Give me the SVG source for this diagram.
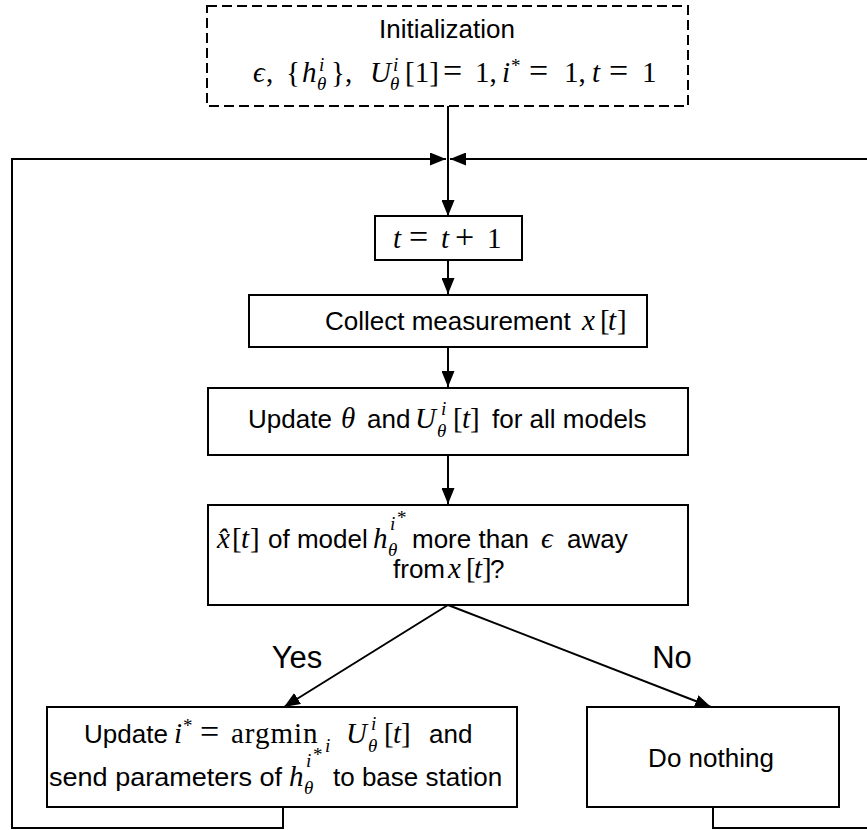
<svg xmlns="http://www.w3.org/2000/svg" width="867" height="830" viewBox="0 0 867 830">
<defs>
<style>
.box{fill:#fff;stroke:#000;stroke-width:2}
.dash{stroke-dasharray:10 5}
.c{fill:none;stroke:#000;stroke-width:2}
.t{font-family:"Liberation Sans",Arial,sans-serif;font-size:26px;fill:#000}
.m{font-family:"Liberation Serif","DejaVu Serif",serif;font-style:italic;font-size:29px;fill:#000}
.r{font-style:normal}
.s{font-size:19px}
.eq{font-size:34px;font-style:normal}
.lbl{font-family:"Liberation Sans",Arial,sans-serif;font-size:31px;fill:#000}
</style>
<marker id="ah" markerUnits="userSpaceOnUse" markerWidth="16" markerHeight="13" refX="16" refY="6.5" orient="auto">
<path d="M0,0 L16,6.5 L0,13 z" fill="#000"/>
</marker>
</defs>
<rect width="867" height="830" fill="#fff"/>

<g id="connectors">
<path class="c" d="M448,106 V216" marker-end="url(#ah)"/>
<path class="c" d="M448,260 V294" marker-end="url(#ah)"/>
<path class="c" d="M448,347 V387" marker-end="url(#ah)"/>
<path class="c" d="M448,455 V504" marker-end="url(#ah)"/>
<path class="c" d="M448,605 L284,707" marker-end="url(#ah)"/>
<path class="c" d="M448,605 L711,707" marker-end="url(#ah)"/>
<path class="c" d="M283,807 V828 H12 V159 H446" marker-end="url(#ah)"/>
<path class="c" d="M713,807 V828 H880 V159 H450" marker-end="url(#ah)"/>
</g>

<g id="init">
<rect class="box dash" x="207" y="6" width="481" height="100"/>
<text class="t" x="447" y="38" text-anchor="middle">Initialization</text>
<text class="m" y="82"><tspan x="253">ϵ</tspan><tspan class="r" x="266">,</tspan><tspan class="r" x="286">{</tspan><tspan x="302">h</tspan><tspan class="s" x="319" y="71">i</tspan><tspan class="s" x="317" y="90">θ</tspan><tspan class="r" x="331" y="82">}</tspan><tspan class="r" x="345">,</tspan><tspan x="370">U</tspan><tspan class="s" x="393" y="71">i</tspan><tspan class="s" x="390" y="90">θ</tspan><tspan class="r" x="405" y="82">[1]</tspan><tspan class="eq" x="443">=</tspan><tspan class="r" x="475">1,</tspan><tspan x="502">i</tspan><tspan class="s r" x="511" y="72">*</tspan><tspan class="eq" x="529" y="82">=</tspan><tspan class="r" x="564">1,</tspan><tspan x="592">t</tspan><tspan class="eq" x="609">=</tspan><tspan class="r" x="642">1</tspan></text>
</g>

<g id="increment">
<rect class="box" x="375" y="216" width="147" height="44"/>
<text class="m" y="248"><tspan x="393">t</tspan><tspan class="eq" x="409">=</tspan><tspan x="441">t</tspan><tspan class="eq" x="455">+</tspan><tspan class="r" x="487">1</tspan></text>
</g>

<g id="collect">
<rect class="box" x="249" y="295" width="398" height="52"/>
<text class="t" x="325" y="330">Collect measurement</text>
<text class="m" y="330"><tspan x="582">x</tspan><tspan class="r" x="600">[</tspan><tspan x="608">t</tspan><tspan class="r" x="617">]</tspan></text>
</g>

<g id="update">
<rect class="box" x="208" y="388" width="480" height="67"/>
<text class="t" y="428"><tspan x="248">Update</tspan><tspan x="367">and</tspan><tspan x="492">for all models</tspan></text>
<text class="m" y="428"><tspan x="341">θ</tspan><tspan x="415">U</tspan><tspan class="s" x="441" y="415">i</tspan><tspan class="s" x="437" y="437">θ</tspan><tspan class="r" x="453" y="428">[</tspan><tspan x="462">t</tspan><tspan class="r" x="470">]</tspan></text>
</g>

<g id="decision">
<rect class="box" x="208" y="505" width="480" height="100"/>
<text class="t" y="548"><tspan x="268">of model</tspan><tspan x="412">more than</tspan><tspan x="567">away</tspan></text>
<text class="m" y="548"><tspan x="217">x̂</tspan><tspan class="r" x="232">[</tspan><tspan x="241">t</tspan><tspan class="r" x="250">]</tspan><tspan x="373">h</tspan><tspan class="s" x="390" y="530">i</tspan><tspan class="s r" x="397" y="524">*</tspan><tspan class="s" x="388" y="556">θ</tspan><tspan x="541" y="548">ϵ</tspan></text>
<text class="t" y="578"><tspan x="393">from</tspan><tspan x="490">?</tspan></text>
<text class="m" y="578"><tspan x="448">x</tspan><tspan class="r" x="466">[</tspan><tspan x="474">t</tspan><tspan class="r" x="482">]</tspan></text>
</g>

<g id="yes-label"><text class="lbl" x="297" y="668" text-anchor="middle">Yes</text></g>
<g id="no-label"><text class="lbl" x="672" y="668" text-anchor="middle">No</text></g>

<g id="update-send">
<rect class="box" x="47" y="707" width="470" height="100"/>
<text class="t" x="84" y="743">Update</text>
<text class="t" x="429" y="743">and</text>
<text class="m" y="743"><tspan x="174">i</tspan><tspan class="s r" x="183" y="732">*</tspan><tspan class="eq" x="200" y="743">=</tspan><tspan class="r" x="231" style="letter-spacing:1px">argmin</tspan><tspan class="s" x="325" y="752">i</tspan><tspan x="346" y="743">U</tspan><tspan class="s" x="371" y="730">i</tspan><tspan class="s" x="368" y="752">θ</tspan><tspan class="r" x="384" y="743">[</tspan><tspan x="393">t</tspan><tspan class="r" x="401">]</tspan></text>
<text class="t" x="49" y="786" textLength="233" lengthAdjust="spacingAndGlyphs">send parameters of</text>
<text class="t" x="333" y="786">to base station</text>
<text class="m" y="786"><tspan x="289">h</tspan><tspan class="s" x="306" y="767">i</tspan><tspan class="s r" x="313" y="761">*</tspan><tspan class="s" x="304" y="794">θ</tspan></text>
</g>

<g id="do-nothing">
<rect class="box" x="587" y="707" width="252" height="100"/>
<text class="t" x="711" y="767" text-anchor="middle">Do nothing</text>
</g>
</svg>
